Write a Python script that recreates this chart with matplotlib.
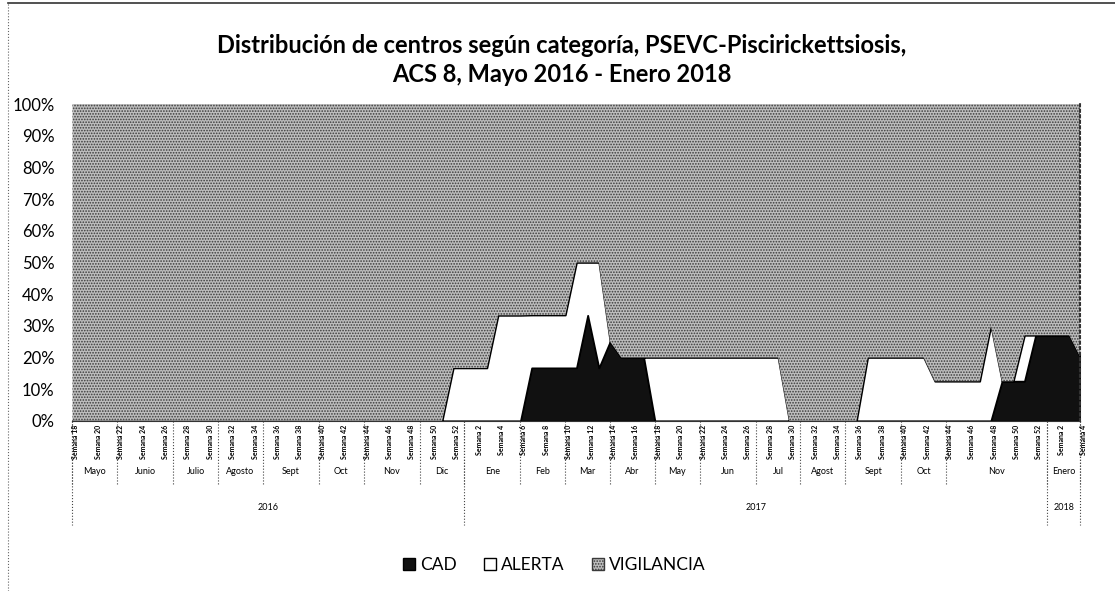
import matplotlib
matplotlib.use('Agg')
import matplotlib.pyplot as plt
from matplotlib.patches import Patch
from matplotlib.lines import Line2D
from matplotlib.transforms import blended_transform_factory

plt.rcParams['font.family'] = ['Lato', 'DejaVu Sans']
plt.rcParams['hatch.linewidth'] = 0.8

# eje x: semanas epidemiologicas agrupadas por mes y año
anios = ['2016', '2017', '2018']
semanas_anio = [35, 52, 4]
meses = ['Mayo', 'Junio', 'Julio', 'Agosto', 'Sept', 'Oct', 'Nov', 'Dic',
         'Ene', 'Feb', 'Mar', 'Abr', 'May', 'Jun', 'Jul', 'Agost', 'Sept', 'Oct', 'Nov',
         'Enero']
semanas_mes = [4, 5, 4, 4, 5, 4, 5, 4,
               5, 4, 4, 4, 4, 5, 4, 4, 5, 4, 9,
               4]
semanas = list(range(18, 53)) + list(range(1, 53)) + list(range(1, 5))

# porcentaje de centros por categoria
cad = [0, 0, 0, 0, 0, 0, 0, 0, 0, 0,
       0, 0, 0, 0, 0, 0, 0, 0, 0, 0,
       0, 0, 0, 0, 0, 0, 0, 0, 0, 0,
       0, 0, 0, 0, 0, 0, 0, 0, 0, 0,
       0, 16.7, 16.7, 16.7, 16.7, 16.7, 33.3, 16.7, 25, 20,
       20, 20, 0, 0, 0, 0, 0, 0, 0, 0,
       0, 0, 0, 0, 0, 0, 0, 0, 0, 0,
       0, 0, 0, 0, 0, 0, 0, 0, 0, 0,
       0, 0, 0, 12.5, 12.5, 12.5, 27, 27, 27, 27,
       20]
alerta = [0, 0, 0, 0, 0, 0, 0, 0, 0, 0,
          0, 0, 0, 0, 0, 0, 0, 0, 0, 0,
          0, 0, 0, 0, 0, 0, 0, 0, 0, 0,
          0, 0, 0, 0, 16.7, 16.7, 16.7, 16.7, 33.3, 33.3,
          33.3, 16.7, 16.7, 16.7, 16.7, 33.3, 16.7, 33.3, 0, 0,
          0, 0, 20, 20, 20, 20, 20, 20, 20, 20,
          20, 20, 20, 20, 0, 0, 0, 0, 0, 0,
          0, 20, 20, 20, 20, 20, 20, 12.5, 12.5, 12.5,
          12.5, 12.5, 30, 0, 0, 14.5, 0, 0, 0, 0,
          0]
vigilancia = [100, 100, 100, 100, 100, 100, 100, 100, 100, 100,
              100, 100, 100, 100, 100, 100, 100, 100, 100, 100,
              100, 100, 100, 100, 100, 100, 100, 100, 100, 100,
              100, 100, 100, 100, 83.3, 83.3, 83.3, 83.3, 66.7, 66.7,
              66.7, 66.7, 66.7, 66.7, 66.7, 50, 50, 50, 75, 80,
              80, 80, 80, 80, 80, 80, 80, 80, 80, 80,
              80, 80, 80, 80, 100, 100, 100, 100, 100, 100,
              100, 80, 80, 80, 80, 80, 80, 87.5, 87.5, 87.5,
              87.5, 87.5, 70, 87.5, 87.5, 73, 73, 73, 73, 73,
              80]

x = list(range(len(semanas)))
n = len(semanas) - 1

fig = plt.figure(figsize=(11.15, 5.91), dpi=100)
ax = fig.add_axes([0.065, 0.288, 0.904, 0.536])

polys = ax.stackplot(x, cad, alerta, vigilancia,
                     colors=['#111111', 'white', '#bdbdbd'])
polys[0].set_edgecolor('black')
polys[0].set_linewidth(0.8)
polys[1].set_edgecolor('black')
polys[1].set_linewidth(1.3)
polys[2].set_hatch('......')
polys[2].set_edgecolor('#3a3a3a')
polys[2].set_linewidth(0)

ax.set_xlim(0, n)
ax.set_ylim(0, 100)
ax.set_yticks(range(0, 101, 10))
ax.set_yticklabels([f'{v}%' for v in range(0, 101, 10)], fontsize=12)
ax.tick_params(axis='y', length=0, pad=13)
ax.set_xticks([])
for s in ['top', 'left']:
    ax.spines[s].set_visible(False)
ax.spines['right'].set_color('#333333')
ax.spines['right'].set_linestyle(':')
ax.spines['right'].set_linewidth(1.5)
ax.spines['bottom'].set_color('#333333')
ax.spines['bottom'].set_linewidth(0.8)

tr = blended_transform_factory(ax.transData, ax.transAxes)

# etiquetas de semana (una de cada dos)
for i in range(0, len(semanas), 2):
    ax.text(i + 0.3, -0.012, f'Semana {semanas[i]}', transform=tr, rotation=90,
            ha='center', va='top', fontsize=5, fontweight='bold')

# separadores y etiquetas de mes
pos = 0
for mes, k in zip(meses, semanas_mes):
    ax.plot([min(pos, n)] * 2, [0, -0.2], transform=tr, clip_on=False,
            color='#444444', lw=0.8, ls=':')
    ax.text((pos + min(pos + k, n)) / 2, -0.16, mes, transform=tr,
            ha='center', va='center', fontsize=6.5)
    pos += k
ax.plot([n, n], [0, -0.2], transform=tr, clip_on=False, color='#444444', lw=0.8, ls=':')

# separadores y etiquetas de año
pos = 0
for anio, k in zip(anios, semanas_anio):
    ax.plot([min(pos, n)] * 2, [0, -0.33], transform=tr, clip_on=False,
            color='#444444', lw=0.8, ls=':')
    ax.text((pos + min(pos + k, n)) / 2, -0.274, anio, transform=tr,
            ha='center', va='center', fontsize=6.5)
    pos += k
ax.plot([n, n], [0, -0.33], transform=tr, clip_on=False, color='#444444', lw=0.8, ls=':')

fig.text(0.504, 0.898,
         'Distribución de centros según categoría, PSEVC-Piscirickettsiosis,\n'
         'ACS 8, Mayo 2016 - Enero 2018',
         ha='center', va='center', fontsize=17, fontweight='bold', linespacing=1.3)

handles = [Patch(facecolor='#111111', edgecolor='black'),
           Patch(facecolor='white', edgecolor='black'),
           Patch(facecolor='#bdbdbd', edgecolor='#3a3a3a', hatch='......')]
fig.legend(handles, ['CAD', 'ALERTA', 'VIGILANCIA'], loc='center',
           bbox_to_anchor=(0.497, 0.044), ncol=3, frameon=False, fontsize=12.5,
           handlelength=0.7, handleheight=0.7, handletextpad=0.25, columnspacing=1.6)

# marco del grafico
fig.add_artist(Line2D([8 / 1115, 1], [1 - 3 / 591, 1 - 3 / 591], color='#333333', lw=1.2))
fig.add_artist(Line2D([8 / 1115, 8 / 1115], [0, 1 - 3 / 591], color='#666666', lw=0.8, ls=':'))

fig.savefig('out.png', dpi=100)
